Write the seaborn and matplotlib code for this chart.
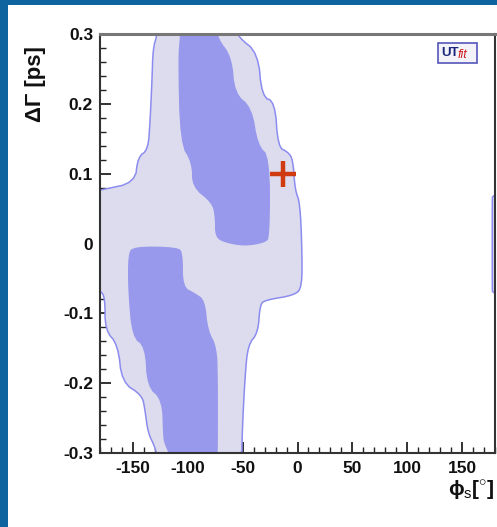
import numpy as np
import pandas as pd
import matplotlib
matplotlib.use("Agg")
import matplotlib.pyplot as plt
import seaborn as sns
from matplotlib.patches import Rectangle
from matplotlib.ticker import MultipleLocator, FixedLocator, FixedFormatter

# ---------------- data ----------------
# outer (95% probability) region boundary: phi_s [deg], DeltaGamma [ps^-1]
outer_phi = [-128.0, -128.0, -131.7, -132.6, -134.4, -136.3, -145.4, -148.2, -178.2, -185.0,
             -185.0, -180.0, -175.4, -175.4, -163.6, -160.0, -141.7, -139.0, -136.3, -130.0,
             -127.0, -50.6, -50.6, -47.9, -45.1, -36.0, -34.2, -29.6, -2.3, 4.1,
             4.1, 2.3, -2.3, -4.1, -8.7, -17.8, -20.5, -32.4, -36.0, -54.2, -56.0]
outer_dg = [0.31, 0.299, 0.279, 0.234, 0.173, 0.134, 0.124, 0.087, 0.077, 0.075,
            -0.069, -0.067, -0.077, -0.124, -0.145, -0.199, -0.217, -0.238, -0.271, -0.291,
            -0.31, -0.31, -0.277, -0.191, -0.145, -0.128, -0.088, -0.081, -0.074, -0.062,
            -0.009, 0.058, 0.077, 0.120, 0.131, 0.138, 0.203, 0.210, 0.273, 0.296, 0.31]

# wrap-around piece of the outer region at phi_s = +180
wrap_phi = [185.0, 177.8, 177.5, 177.5, 177.8, 185.0]
wrap_dg = [0.069, 0.069, 0.060, -0.062, -0.071, -0.071]

# inner (68% probability) regions
inner_up_phi = [-107.1, -107.1, -108.9, -107.1, -96.2, -96.2, -77.9, -75.2, -75.2, -66.1,
                -47.8, -29.6, -25.1, -25.1, -36.0, -41.5, -57.0, -59.7, -72.5, -72.5]
inner_up_dg = [0.31, 0.296, 0.267, 0.144, 0.115, 0.081, 0.058, 0.038, 0.009, 0.001,
               -0.004, 0.001, 0.009, 0.124, 0.141, 0.195, 0.215, 0.267, 0.294, 0.31]

inner_lo_phi = [-154.5, -149.9, -108.9, -104.4, -104.4, -93.4, -84.3, -81.6, -73.4, -72.5,
                -72.5, -72.8, -114.4, -120.8, -122.6, -123.5, -137.2, -139.0, -150.8, -154.5]
inner_lo_dg = [-0.016, -0.004, -0.005, -0.014, -0.062, -0.071, -0.081, -0.124, -0.148, -0.195,
               -0.277, -0.31, -0.31, -0.289, -0.277, -0.224, -0.205, -0.148, -0.134, -0.067]

# Standard Model point
sm_phi = [-13.5]
sm_dg = [0.100]

x_ticks = [-150, -100, -50, 0, 50, 100, 150]
x_ticklabels = ["-150", "-100", "-50", "0", "50", "100", "150"]
y_ticks = [-0.3, -0.2, -0.1, 0.0, 0.1, 0.2, 0.3]
y_ticklabels = ["-0.3", "-0.2", "-0.1", "0", "0.1", "0.2", "0.3"]


def rounded(xs, ys, n_iter=2):
    """Chaikin corner rounding of a closed outline (drawing only, keeps the read points' shape)."""
    x = np.asarray(xs, float) / 360.0
    y = np.asarray(ys, float) / 0.6
    for _ in range(n_iter):
        xn, yn = np.roll(x, -1), np.roll(y, -1)
        x = np.column_stack([0.75 * x + 0.25 * xn, 0.25 * x + 0.75 * xn]).ravel()
        y = np.column_stack([0.75 * y + 0.25 * yn, 0.25 * y + 0.75 * yn]).ravel()
    return x * 360.0, y * 0.6


# ---------------- style ----------------
sns.set_theme(style="white")
plt.rcParams["font.family"] = ["Liberation Sans", "DejaVu Sans"]
plt.rcParams["axes.unicode_minus"] = False
plt.rcParams["mathtext.fontset"] = "custom"
plt.rcParams["mathtext.rm"] = "Liberation Sans"

LIGHT = "#dcdcee"
EDGE = "#8c8cf0"
DARK = "#9898ec"
RED = "#d03a10"
FRAME = "#0e649e"

W, H = 497, 527
fig = plt.figure(figsize=(W / 100, H / 100), dpi=100, facecolor="white")

# blue frame (left and top)
fig.patches.append(Rectangle((0, 0), 8 / W, 1, transform=fig.transFigure,
                             facecolor=FRAME, edgecolor="none", zorder=0))
fig.patches.append(Rectangle((0, 1 - 5 / H), 1, 5 / H, transform=fig.transFigure,
                             facecolor=FRAME, edgecolor="none", zorder=0))

ax = fig.add_axes([100 / W, (H - 453) / H, 395 / W, 419 / H])
ax.set_facecolor("white")

ox, oy = rounded(outer_phi, outer_dg)
ax.fill(ox, oy, facecolor=LIGHT, edgecolor=EDGE, lw=1.1, zorder=1)
wx, wy = rounded(wrap_phi, wrap_dg, 1)
ax.fill(wx, wy, facecolor=LIGHT, edgecolor=EDGE, lw=1.1, zorder=1)
ux, uy = rounded(inner_up_phi, inner_up_dg)
ax.fill(ux, uy, facecolor=DARK, edgecolor="none", zorder=2)
lx, ly = rounded(inner_lo_phi, inner_lo_dg)
ax.fill(lx, ly, facecolor=DARK, edgecolor="none", zorder=2)

sm = pd.DataFrame({"phi": sm_phi, "dg": sm_dg})
sns.scatterplot(data=sm, x="phi", y="dg", marker="+", s=330, color=RED,
                linewidth=3.2, ax=ax, zorder=5, legend=False)

ax.set_xlim(-180, 180)
ax.set_ylim(-0.3, 0.3)
ax.set_xlabel("")
ax.set_ylabel("")

ax.xaxis.set_major_locator(FixedLocator(x_ticks))
ax.xaxis.set_major_formatter(FixedFormatter(x_ticklabels))
ax.yaxis.set_major_locator(FixedLocator(y_ticks))
ax.yaxis.set_major_formatter(FixedFormatter(y_ticklabels))
ax.xaxis.set_minor_locator(MultipleLocator(10))
ax.yaxis.set_minor_locator(MultipleLocator(0.02))

ax.tick_params(which="both", direction="in", bottom=True, left=True, top=False, right=False,
               color="#222222")
ax.tick_params(which="major", length=8, width=1.3)
ax.tick_params(which="minor", length=4, width=1.0)
ax.tick_params(axis="x", which="major", pad=6, labelsize=12.5)
ax.tick_params(axis="y", which="major", pad=5, labelsize=12.5)
for lab in ax.get_xticklabels() + ax.get_yticklabels():
    lab.set_fontweight("bold")
    lab.set_color("#111111")

for side in ["left", "bottom", "right"]:
    ax.spines[side].set_color("#333333")
    ax.spines[side].set_linewidth(1.5)
ax.spines["top"].set_color("#777777")
ax.spines["top"].set_linewidth(2.2)

# axis titles (ROOT style positions)
fig.text(35 / W, 1 - 84 / H, "ΔΓ [ps]", rotation=90, ha="center", va="center",
         fontsize=16, fontweight="bold", color="#111111")
fig.text(495 / W, 1 - 490 / H, r"ϕ$_{\mathrm{s}}$[$^{\circ}$]", ha="right", va="center",
         fontsize=15, fontweight="bold", color="#111111")

# UTfit logo
fig.patches.append(Rectangle((438 / W, 1 - 63 / H), 39 / W, 20 / H, transform=fig.transFigure,
                             facecolor="#f2f2f8", edgecolor="#5555bb", lw=1.2, zorder=3))
fig.text(441 / W, 1 - 53 / H, "UT", ha="left", va="center", fontsize=9.5,
         fontweight="bold", color="#1a237e", zorder=4)
fig.text(458 / W, 1 - 55 / H, "fit", ha="left", va="center", fontsize=9,
         fontstyle="italic", color="#d02020", zorder=4)

fig.savefig("out.png", dpi=100, facecolor="white")
